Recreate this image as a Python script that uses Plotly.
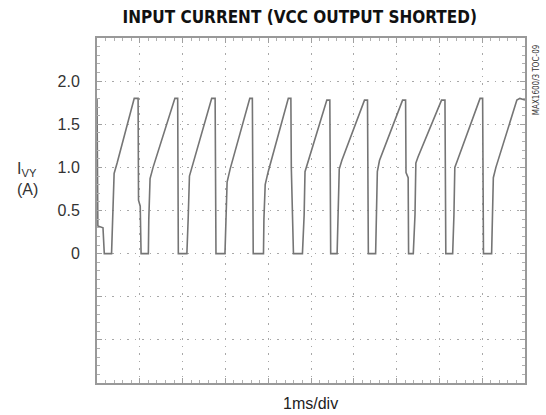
import plotly.graph_objects as go

# ---- data (time in ms, current in A) ----
time_ms = [0.00, 0.02, 0.14, 0.17, 0.34, 0.36, 0.40, 0.47, 0.87, 0.96, 0.97, 1.01, 1.03, 1.20,
           1.21, 1.24, 1.31, 1.82, 1.885, 1.90, 2.10,
           2.13, 2.16, 2.23, 2.68, 2.76, 2.78, 2.99,
           3.01, 3.04, 3.11, 3.57, 3.63, 3.65, 3.89,
           3.90, 3.93, 4.00, 4.47, 4.53, 4.54, 4.59, 4.80,
           4.84, 4.86, 4.92, 5.37, 5.44, 5.46, 5.61,
           5.64, 5.66, 5.72, 6.25, 6.32, 6.34, 6.51,
           6.53, 6.55, 6.60, 7.14, 7.21, 7.22, 7.27, 7.28, 7.39,
           7.43, 7.45, 7.50, 8.05, 8.13, 8.15, 8.31,
           8.34, 8.36, 8.42, 8.95, 9.01, 9.03, 9.22,
           9.24, 9.26, 9.32, 9.81, 9.88, 10.0]
current_a = [1.80, 0.32, 0.30, 0.00, 0.00, 0.35, 0.93, 1.05, 1.80, 1.80, 0.62, 0.55, 0.00, 0.00,
             0.40, 0.87, 1.00, 1.80, 1.80, 0.00, 0.00,
             0.40, 0.90, 1.02, 1.80, 1.80, 0.00, 0.00,
             0.40, 0.83, 0.98, 1.80, 1.80, 0.00, 0.00,
             0.40, 0.80, 0.95, 1.80, 1.80, 1.00, 0.00, 0.00,
             0.45, 0.95, 1.05, 1.78, 1.78, 0.00, 0.00,
             0.45, 0.98, 1.08, 1.78, 1.78, 0.00, 0.00,
             0.45, 0.95, 1.08, 1.78, 1.78, 0.94, 0.88, 0.00, 0.00,
             0.45, 1.05, 1.12, 1.78, 1.78, 0.00, 0.00,
             0.45, 1.00, 1.08, 1.80, 1.80, 0.00, 0.00,
             0.45, 0.88, 1.00, 1.78, 1.80, 1.78]

x_divs = [0, 1, 2, 3, 4, 5, 6, 7, 8, 9, 10]
x_div_labels = [""] * len(x_divs)
y_divs = [-1.5, -1.0, -0.5, 0.0, 0.5, 1.0, 1.5, 2.0, 2.5]
y_div_labels = ["", "", "", "0", "0.5", "1.0", "1.5", "2.0", ""]

title_text = "INPUT CURRENT (VCC OUTPUT SHORTED)"
y_title = "I<sub>VY</sub><br>(A)"
x_title = "1ms/div"
side_note = "MAX1600/3 TOC-09"

COND = "DejaVu Sans Condensed, Roboto, Liberation Sans, sans-serif"

fig = go.Figure()
fig.add_trace(go.Scatter(
    x=time_ms, y=current_a, mode="lines",
    line=dict(color="#757575", width=1.6),
    hoverinfo="skip", showlegend=False,
))

grid_common = dict(
    showgrid=True, gridcolor="#a8a8a8", gridwidth=1.3, griddash="1.5px,6px",
    showline=True, mirror="allticks", linecolor="#999999", linewidth=2,
    ticks="inside", ticklen=5, tickcolor="#a0a0a0", tickwidth=1,
    zeroline=False, fixedrange=True,
)

fig.update_xaxes(
    range=[0, 10], tickmode="array", tickvals=x_divs, ticktext=x_div_labels,
    minor=dict(dtick=0.2, ticks="inside", ticklen=3, tickcolor="#b0b0b0", showgrid=False),
    **grid_common,
)
fig.update_yaxes(
    range=[-1.5, 2.5], tickmode="array", tickvals=y_divs, ticktext=y_div_labels,
    tickfont=dict(family="Liberation Sans", size=16, color="#333333"),
    ticklabelstandoff=12,
    minor=dict(dtick=0.1, ticks="inside", ticklen=3, tickcolor="#b0b0b0", showgrid=False),
    **grid_common,
)

fig.update_layout(
    width=546, height=415,
    margin=dict(l=97, r=21, t=38, b=32),
    paper_bgcolor="white", plot_bgcolor="white",
    title=dict(text=title_text, x=0.549, xref="container", xanchor="center",
               y=0.958, yref="container", yanchor="middle",
               font=dict(family=COND, size=17, color="#111111", weight="bold")),
    annotations=[
        dict(text=y_title, xref="paper", yref="paper", x=-0.192, y=0.59,
             xanchor="left", yanchor="middle", align="left", showarrow=False,
             font=dict(family="Liberation Sans", size=16, color="#333333")),
        dict(text=x_title, xref="paper", yref="paper", x=0.498, y=-0.058,
             xanchor="center", yanchor="middle", showarrow=False,
             font=dict(family="Liberation Sans", size=16, color="#222222")),
        dict(text=side_note, xref="paper", yref="paper", x=1.026, y=0.878,
             xanchor="center", yanchor="middle", textangle=-90, showarrow=False,
             font=dict(family=COND, size=8, color="#333333")),
    ],
)

fig.write_html("out.html", config={"displayModeBar": False},
               post_script="document.body.style.margin='0';document.body.style.padding='0';")
